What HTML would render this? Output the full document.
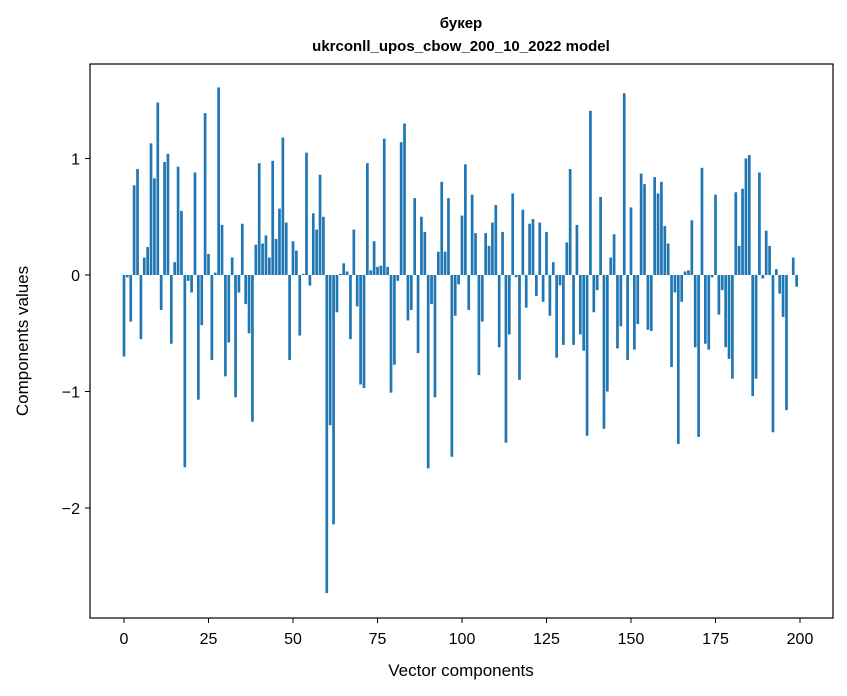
<!DOCTYPE html>
<html><head><meta charset="utf-8"><style>body{margin:0;background:#fff}svg{display:block;font-family:"Liberation Sans","DejaVu Sans",sans-serif}</style></head>
<body>
<svg id="chart" width="847" height="696">
<text x="461" y="28" text-anchor="middle" font-size="15" font-weight="bold">букер</text>
<text x="461" y="51" text-anchor="middle" font-size="15" font-weight="bold">ukrconll_upos_cbow_200_10_2022 model</text>
<g id="bars"></g>
<rect x="90" y="64" width="743" height="554" fill="none" stroke="#000" stroke-width="1.2"/>
<g id="axes"></g>
<text x="461" y="676" text-anchor="middle" font-size="17">Vector components</text>
<text transform="translate(28,341) rotate(-90)" text-anchor="middle" font-size="17">Components values</text>
</svg>
<script>
const values=[-0.70,-0.02,-0.40,0.77,0.91,-0.55,0.15,0.24,1.13,0.83,1.48,-0.30,0.97,1.04,-0.59,0.11,0.93,0.55,-1.65,-0.05,-0.15,0.88,-1.07,-0.43,1.39,0.18,-0.73,0.02,1.61,0.43,-0.87,-0.58,0.15,-1.05,-0.15,0.44,-0.25,-0.50,-1.26,0.26,0.96,0.27,0.34,0.15,0.98,0.31,0.57,1.18,0.45,-0.73,0.29,0.21,-0.52,0.01,1.05,-0.09,0.53,0.39,0.86,0.50,-2.73,-1.29,-2.14,-0.32,0.01,0.10,0.03,-0.55,0.39,-0.27,-0.94,-0.97,0.96,0.04,0.29,0.07,0.08,1.17,0.07,-1.01,-0.77,-0.05,1.14,1.30,-0.39,-0.30,0.66,-0.67,0.50,0.37,-1.66,-0.25,-1.05,0.20,0.80,0.20,0.66,-1.56,-0.35,-0.08,0.51,0.95,-0.30,0.69,0.36,-0.86,-0.40,0.36,0.25,0.45,0.60,-0.62,0.37,-1.44,-0.51,0.70,-0.02,-0.90,0.56,-0.28,0.44,0.48,-0.18,0.45,-0.23,0.37,-0.35,0.11,-0.71,-0.09,-0.60,0.28,0.91,-0.60,0.43,-0.51,-0.65,-1.38,1.41,-0.32,-0.13,0.67,-1.32,-1.00,0.15,0.35,-0.63,-0.44,1.56,-0.73,0.58,-0.64,-0.42,0.87,0.78,-0.47,-0.48,0.84,0.70,0.80,0.42,0.27,-0.79,-0.15,-1.45,-0.23,0.03,0.04,0.47,-0.62,-1.39,0.92,-0.59,-0.64,-0.02,0.69,-0.34,-0.13,-0.62,-0.72,-0.89,0.71,0.25,0.74,1.00,1.03,-1.04,-0.89,0.88,-0.03,0.38,0.25,-1.35,0.05,-0.16,-0.36,-1.16,0.00,0.15,-0.10];
const xTicks=[0,25,50,75,100,125,150,175,200];
const yTicks=[-2,-1,0,1];
const yTickLabels=["\u22122","\u22121","0","1"];
const NS="http://www.w3.org/2000/svg";
function xs(v){return 124+v*3.38;}
function ys(v){return 275-v*116.5;}
const bars=document.getElementById('bars');
values.forEach((v,i)=>{
 const r=document.createElementNS(NS,'rect');
 const w=0.8*3.38;
 r.setAttribute('x',xs(i)-w/2);
 r.setAttribute('width',w);
 r.setAttribute('y',Math.min(ys(v),ys(0)));
 r.setAttribute('height',Math.abs(ys(v)-ys(0)));
 r.setAttribute('fill','#1f77b4');
 
 
 bars.appendChild(r);
});
const axes=document.getElementById('axes');
xTicks.forEach(t=>{
 const l=document.createElementNS(NS,'line');
 l.setAttribute('x1',xs(t));l.setAttribute('x2',xs(t));l.setAttribute('y1',618);l.setAttribute('y2',623);l.setAttribute('stroke','#000');
 
 
 axes.appendChild(l);
 const tx=document.createElementNS(NS,'text');
 tx.setAttribute('x',xs(t));tx.setAttribute('y',644);tx.setAttribute('text-anchor','middle');tx.setAttribute('font-size','16');
 tx.textContent=t;
 
 
 axes.appendChild(tx);
});
yTicks.forEach((t,i)=>{
 const l=document.createElementNS(NS,'line');
 l.setAttribute('x1',85);l.setAttribute('x2',90);l.setAttribute('y1',ys(t));l.setAttribute('y2',ys(t));l.setAttribute('stroke','#000');
 
 
 axes.appendChild(l);
 const tx=document.createElementNS(NS,'text');
 tx.setAttribute('x',80);tx.setAttribute('y',ys(t)+6);tx.setAttribute('text-anchor','end');tx.setAttribute('font-size','16');
 tx.textContent=yTickLabels[i];
 
 
 axes.appendChild(tx);
});
</script>
</body></html>
